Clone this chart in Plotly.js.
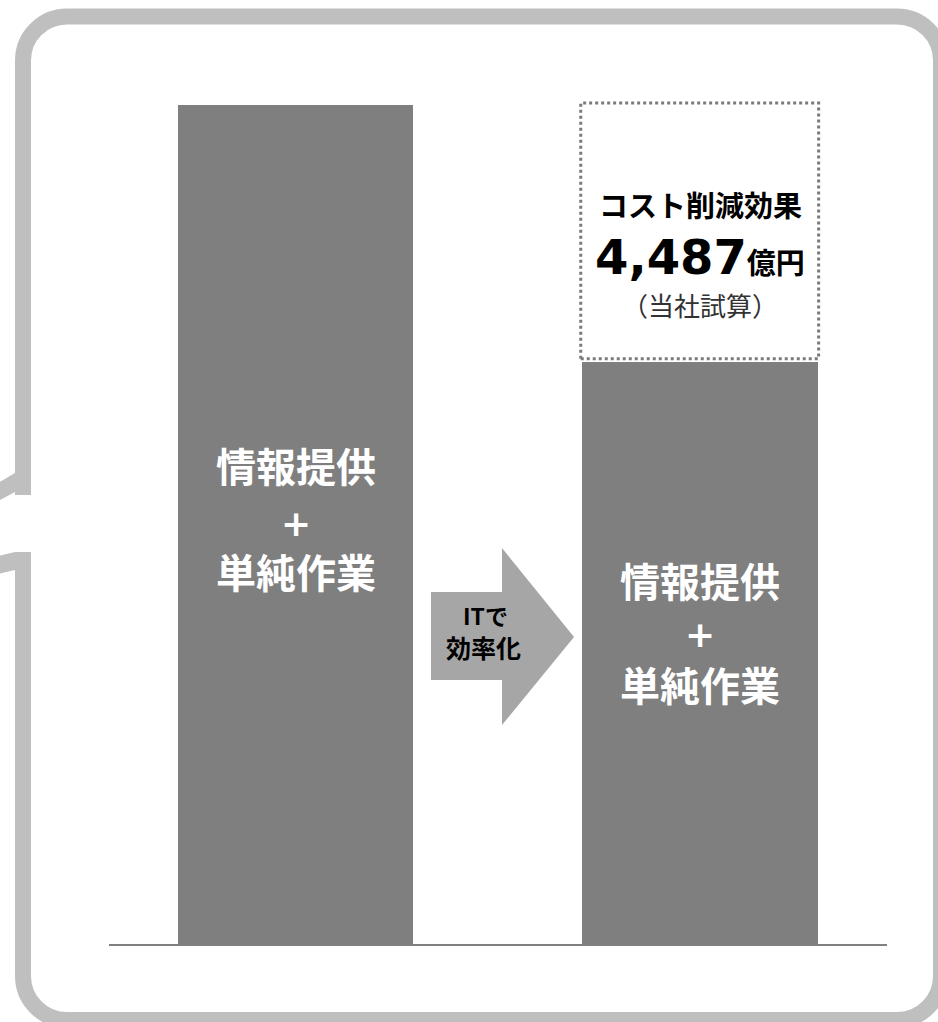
<!DOCTYPE html>
<html><head><meta charset="utf-8">
<script src="https://cdn.plot.ly/plotly-3.0.1.min.js"></script>
<style>html,body{margin:0;padding:0;background:#fff;}</style>
</head><body><div id="chart" style="width:938px;height:1022px;"></div>
<script>
// ---- data (億円) ----
const categories = [0, 1];              // 0: before, 1: after IT efficiency
const remainingCost = [14700, 10213];   // gray bars
const savedCost = [0, 4487];            // dotted "cost reduction" part
const barLabelLines = ["情報提供", "+", "単純作業"];
const savingTitle = "コスト削減効果";
const savingValue = "4,487";
const savingUnit = "億円";
const savingNote = "（当社試算）";
const arrowLines = ["ITで", "効率化"];

// ---- layout geometry ----
const W = 938, H = 1022;
const M = {l: 109, r: 51, t: 59, b: 76};
const PW = W - M.l - M.r, PH = H - M.t - M.b;
const X = px => (px - M.l) / PW;
const Y = py => (H - M.b - py) / PH;
const barW = 0.582;
const CJK = "Noto Sans CJK JP";
const GRAY = "#7f7f7f", FRAME = "#bfbfbf";

const traces = [
  {type: "bar", x: categories, y: remainingCost, width: barW,
   marker: {color: GRAY, line: {width: 0}}, hoverinfo: "skip"},
  {type: "bar", x: categories, y: savedCost, width: barW,
   marker: {color: "rgba(255,255,255,1)", line: {width: 0}}, hoverinfo: "skip"}
];

function pathFrom(points, close) {
  return points.map((p, i) => (i ? "L" : "M") + X(p[0]).toFixed(5) + "," + Y(p[1]).toFixed(5)).join(" ") + (close ? " Z" : "");
}

// rounded frame (open on left side where callout pointer leaves)
const fl = 23, ft = 16.5, fr = 941, fb = 1020, rr = 44, k = 0.5523 * rr;
function P(x, y) { return X(x).toFixed(5) + "," + Y(y).toFixed(5); }
const framePath =
  "M" + P(fl, 495) + " L" + P(fl, ft + rr) +
  " C" + P(fl, ft + rr - k) + " " + P(fl + rr - k, ft) + " " + P(fl + rr, ft) +
  " L" + P(fr - rr, ft) +
  " C" + P(fr - rr + k, ft) + " " + P(fr, ft + rr - k) + " " + P(fr, ft + rr) +
  " L" + P(fr, fb - rr) +
  " C" + P(fr, fb - rr + k) + " " + P(fr - rr + k, fb) + " " + P(fr - rr, fb) +
  " L" + P(fl + rr, fb) +
  " C" + P(fl + rr - k, fb) + " " + P(fl, fb - rr + k) + " " + P(fl, fb - rr) +
  " L" + P(fl, 552);

const shapes = [
  {type: "path", xref: "paper", yref: "paper", path: framePath, layer: "below",
   line: {color: FRAME, width: 16}},
  {type: "path", xref: "paper", yref: "paper", layer: "below", fillcolor: FRAME, line: {width: 0},
   path: pathFrom([[-2, 483], [15, 473], [31, 473], [31, 495], [15, 495], [15, 492], [-2, 501]], true)},
  {type: "path", xref: "paper", yref: "paper", layer: "below", fillcolor: FRAME, line: {width: 0},
   path: pathFrom([[-2, 556], [15, 552], [31, 552], [31, 590], [15, 590], [15, 570], [-2, 574]], true)},
  // arrow
  {type: "path", xref: "paper", yref: "paper", layer: "below", fillcolor: "#a6a6a6", line: {width: 0},
   path: pathFrom([[431, 592], [502, 592], [502, 548], [574, 637], [502, 725], [502, 680], [431, 680]], true)},
  // dotted saving box
  {type: "rect", xref: "x", yref: "y", layer: "above",
   x0: categories[1] - barW / 2 - 0.004, x1: categories[1] + barW / 2 + 0.002,
   y0: remainingCost[1] + 50, y1: remainingCost[1] + savedCost[1] + 30,
   line: {color: "#7a7a7a", width: 3, dash: "dot"}},
  // baseline
  {type: "line", xref: "paper", yref: "y", x0: 0, x1: 1, y0: 0, y1: 0,
   line: {color: "#808080", width: 4}}
];

// vertical pixel offsets of each label line from the bar's middle (up = +)
const labelShifts = [[60, 2, -46], [74, 19, -30]];
const labelSizes = [40, 36, 40];
const labelFonts = [CJK, "DejaVu Sans", CJK];
const annotations = [];
categories.forEach((c, i) => {
  barLabelLines.forEach((line, j) => {
    annotations.push({
      x: c, y: remainingCost[i] / 2, xref: "x", yref: "y", yanchor: "middle",
      yshift: labelShifts[i][j], text: "<b>" + line + "</b>", showarrow: false,
      font: {family: labelFonts[j], size: labelSizes[j], color: "#ffffff"}
    });
  });
});

annotations.push(
  {x: categories[1], xref: "x", yref: "paper", y: Y(204), yanchor: "middle", showarrow: false,
   text: "<b>" + savingTitle + "</b>", font: {family: CJK, size: 29, color: "#000"}},
  {x: categories[1], xref: "x", yref: "paper", y: Y(257), yanchor: "middle", showarrow: false,
   text: "<b>" + savingValue + "</b><span style=\"font-family:'Noto Sans CJK JP';font-size:29px\"><b>" + savingUnit + "</b></span>",
   font: {family: "DejaVu Sans", size: 48, color: "#000"}},
  {x: categories[1], xref: "x", yref: "paper", y: Y(304), yanchor: "middle", showarrow: false,
   text: savingNote, font: {family: CJK, size: 26, color: "#333"}},
  {x: X(485), xref: "paper", yref: "paper", y: Y(615), yanchor: "middle", showarrow: false,
   text: "<b>" + arrowLines[0] + "</b>", font: {family: CJK, size: 23, color: "#000"}},
  {x: X(483), xref: "paper", yref: "paper", y: Y(647), yanchor: "middle", showarrow: false,
   text: "<b>" + arrowLines[1] + "</b>", font: {family: CJK, size: 25, color: "#000"}}
);

const layout = {
  width: W, height: H, margin: M, showlegend: false,
  paper_bgcolor: "#ffffff", plot_bgcolor: "rgba(0,0,0,0)",
  barmode: "stack", bargap: 0,
  xaxis: {range: [-0.461, 1.462], showticklabels: false, showgrid: false, zeroline: false, showline: false, ticks: ""},
  yaxis: {range: [0, 15500], showticklabels: false, showgrid: false, zeroline: false, showline: false, ticks: ""},
  shapes: shapes, annotations: annotations
};

Plotly.newPlot("chart", traces, layout, {staticPlot: true, displayModeBar: false});
</script></body></html>
